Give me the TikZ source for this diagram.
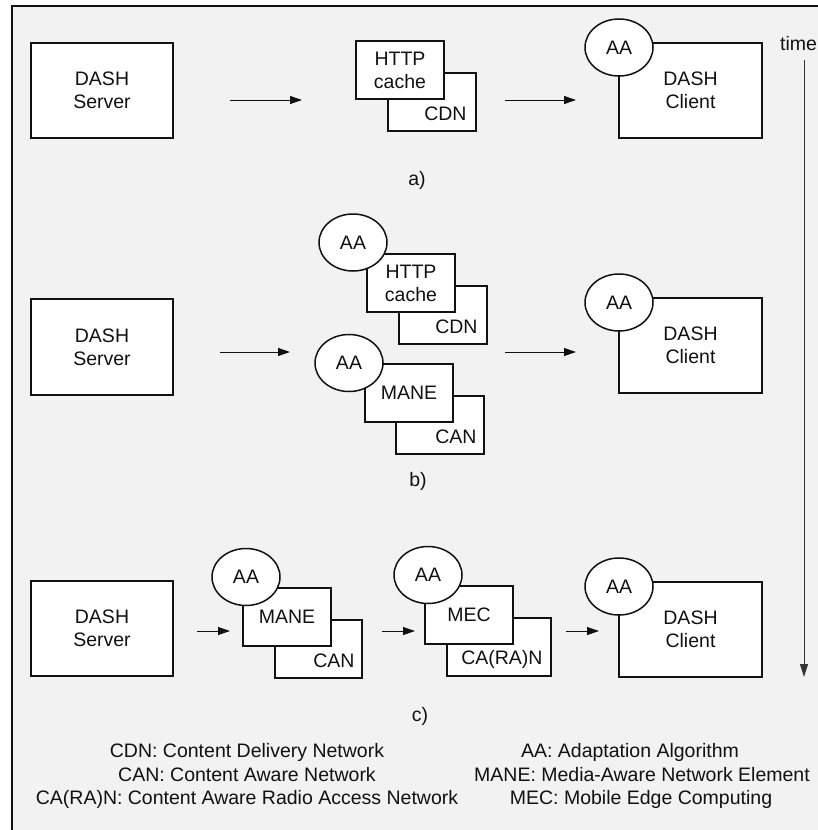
\documentclass[tikz,border=0pt]{standalone}
\usepackage{fontspec}
\setmainfont{Liberation Sans}
\usetikzlibrary{arrows.meta,shapes.geometric}
\definecolor{panel}{HTML}{F2F2F2}
\definecolor{ink}{HTML}{111111}

\begin{document}
\begin{tikzpicture}[x=1pt,y=-1pt,
  every node/.style={font=\fontsize{19.5}{23}\selectfont, text=ink},
  blk/.style={draw=ink, line width=1.5pt, fill=white, inner sep=0pt},
  bigbox/.style={blk, minimum width=142pt, minimum height=95pt, align=center},
  smallbox/.style={blk, minimum width=88pt, minimum height=58pt, align=center},
  algo/.style={blk, ellipse, minimum width=68pt, minimum height=57pt},
  corner/.style={anchor=base east, inner sep=0pt},
  caption/.style={anchor=base, inner sep=0pt},
  flow/.style={draw=ink, line width=1pt, -{Triangle[length=12pt,width=8pt]}},
]
\useasboundingbox (0,0) rectangle (818,830);
\clip (0,0) rectangle (818,830);

% background panel and its frame
\fill[white] (0,0) rectangle (818,830);
\fill[panel] (12,6) rectangle (830,840);
\draw[ink, line width=2pt] (12,840) -- (12,6) -- (830,6);

% ---------- a) plain CDN delivery ----------
\node[bigbox] (srvA) at (102,90.5) {DASH\\Server};
\node[smallbox] (cdnA) at (432,102) {};
\node[corner] (cdnAt) at ([shift={(-10,-11)}]cdnA.south east) {CDN};
\node[smallbox] (httpA) at (400,70) {HTTP\\cache};
\node[bigbox, minimum width=143pt] (cliA) at (690.5,90.5) {DASH\\Client};
\node[algo] (aaA) at (619,47.5) {AA};
\coordinate (a1s) at (230,100); \coordinate (a1e) at (302,100);
\coordinate (a2s) at (505,100); \coordinate (a2e) at (576,100);
\draw[flow] (a1s) -- (a1e);
\draw[flow] (a2s) -- (a2e);
\node[caption] (capA) at (417,185) {a)};

% ---------- b) network-assisted adaptation ----------
\node[bigbox, minimum height=96pt] (srvB) at (102,347) {DASH\\Server};
\node[smallbox] (cdnB) at (443,315) {};
\node[corner] (cdnBt) at ([shift={(-10,-11)}]cdnB.south east) {CDN};
\node[smallbox] (httpB) at (411,283) {HTTP\\cache};
\node[algo] (aaB1) at (353,242.5) {AA};
\node[smallbox] (canB) at (440,425) {};
\node[corner] (canBt) at ([shift={(-8,-11)}]canB.south east) {CAN};
\node[smallbox] (maneB) at (409,393) {MANE};
\node[algo] (aaB2) at (349,363) {AA};
\node[bigbox, minimum width=143pt] (cliB) at (690.5,345.5) {DASH\\Client};
\node[algo] (aaB3) at (619,302.5) {AA};
\coordinate (b1s) at (220,352); \coordinate (b1e) at (290,352);
\coordinate (b2s) at (505,352); \coordinate (b2e) at (576,352);
\draw[flow] (b1s) -- (b1e);
\draw[flow] (b2s) -- (b2e);
\node[caption] (capB) at (418,486) {b)};

% ---------- c) chain of aware elements ----------
\node[bigbox] (srvC) at (102,628.5) {DASH\\Server};
\node[smallbox, minimum width=87pt] (canC) at (318.5,649) {};
\node[corner] (canCt) at ([shift={(-8,-11)}]canC.south east) {CAN};
\node[smallbox] (maneC) at (287,617) {MANE};
\node[algo] (aaC1) at (246,577) {AA};
\node[smallbox, minimum width=104pt] (caranC) at (499,647) {};
\node[corner] (caranCt) at ([shift={(-9,-12)}]caranC.south east) {CA(RA)N};
\node[smallbox] (mecC) at (469,615) {MEC};
\node[algo] (aaC2) at (428,575) {AA};
\node[bigbox, minimum width=143pt] (cliC) at (690.5,629.5) {DASH\\Client};
\node[algo] (aaC3) at (619,586.5) {AA};
\coordinate (c1s) at (197,631); \coordinate (c1e) at (230,631);
\coordinate (c2s) at (382,631); \coordinate (c2e) at (415,631);
\coordinate (c3s) at (566,631); \coordinate (c3e) at (599,631);
\draw[flow] (c1s) -- (c1e);
\draw[flow] (c2s) -- (c2e);
\draw[flow] (c3s) -- (c3e);
\node[caption] (capC) at (420,721) {c)};

% ---------- time axis ----------
\node[anchor=base west, inner sep=0pt] (timeLbl) at (780,50) {time};
\coordinate (tTop) at (804,60);
\coordinate (tBot) at (804,677);
\draw[draw=ink!85, line width=1pt, -{Triangle[length=13pt,width=8pt]}] (tTop) -- (tBot);

% ---------- legend ----------
\node[caption] (lg1) at (247,757) {CDN: Content Delivery Network};
\node[caption] (lg2) at (247,781) {CAN: Content Aware Network};
\node[caption] (lg3) at (247,804) {CA(RA)N: Content Aware Radio Access Network};
\node[caption] (lg4) at (630,757) {AA: Adaptation Algorithm};
\node[caption] (lg5) at (642,781) {MANE: Media-Aware Network Element};
\node[caption] (lg6) at (641,804) {MEC: Mobile Edge Computing};
\end{tikzpicture}
\end{document}
